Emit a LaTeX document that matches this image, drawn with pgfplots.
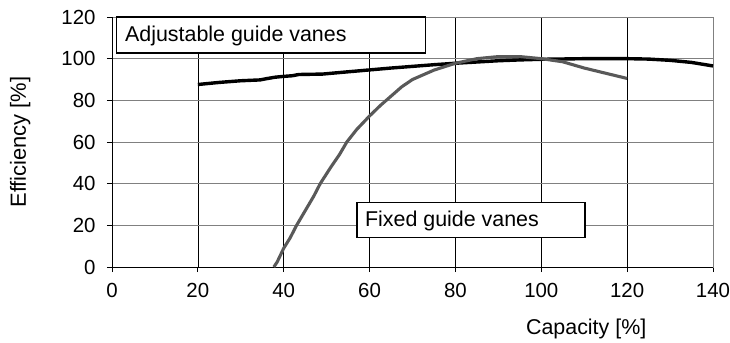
\documentclass[border=0pt]{standalone}
\usepackage{fontspec}
\setmainfont{Liberation Sans}
\usepackage{pgfplots}
\pgfplotsset{compat=1.18}
\definecolor{fixedgray}{RGB}{89,89,89}
\definecolor{gridgray}{RGB}{128,128,128}

\begin{document}
\begin{tikzpicture}
\path[use as bounding box] (-112bp,-76bp) rectangle (618bp,267bp);
\begin{axis}[
  scale only axis,
  width=601bp, height=250bp,
  at={(0,0)}, anchor=south west,
  xmin=0, xmax=140, ymin=0, ymax=120,
  xtick={0,20,...,140}, ytick={0,20,...,120},
  tick pos=left,
  tick align=outside,
  major tick length=5bp,
  tick style={black, line width=0.8bp},
  axis line style={draw=gridgray, line width=0.8bp},
  xmajorgrids, ymajorgrids,
  x grid style={black, line width=0.7bp},
  y grid style={gridgray, line width=0.8bp},
  clip=false,
  /pgf/number format/assume math mode=true,
  tick label style={font=\fontsize{20.5}{24}\selectfont},
  label style={font=\fontsize{21.5}{25}\selectfont},
  xticklabel style={yshift=-8bp},
  yticklabel style={xshift=-8bp},
  xlabel={Capacity [\%]},
  xlabel style={at={(axis description cs:0.789,0)}, anchor=base, yshift=-67bp},
  ylabel={Efficiency [\%]},
  ylabel style={at={(axis description cs:0,0.5)}, anchor=base, yshift=86bp,
    font=\fontsize{22}{26}\selectfont},
]
\draw[black, line width=0.9bp] (rel axis cs:0,1) -- (rel axis cs:0,0) -- (rel axis cs:1,0);

% adjustable guide vanes
\addplot[black, line width=3.4bp, line join=round] coordinates {
(20,87.6) (25,88.6) (30,89.4) (34.5,89.8) (36,90.4) (38,91.1) (40,91.5)
(42,91.8) (43.5,92.4) (49,92.6) (55,93.7) (60,94.6) (65,95.5) (70,96.3)
(75,97.1) (80,97.8) (85,98.4) (90,99) (95,99.4) (100,99.7) (110,100)
(120,100) (125,99.8) (130,99.2) (135,98.2) (140,96.5)};

% fixed guide vanes
\addplot[fixedgray, line width=3.1bp, line join=round] coordinates {
(37.7,0) (38.5,2.5) (40,9) (41.5,14) (43,20) (45,27) (47,34) (48.5,40)
(51,48) (53,54) (54.7,60) (57,66) (60,72.5) (62.5,77.5) (65,82)
(67.5,86.5) (70,90) (75,94.5) (80,97.8) (85,100) (90,101) (95,101)
(100,100) (105,98.5) (110,95.5) (115,93) (120,90.5)};

\draw[black, line width=1.3bp, fill=white] (axis cs:1.1,102.7) rectangle (axis cs:73.1,120);
\node[anchor=base west, inner sep=0pt, font=\fontsize{21.5}{25}\selectfont] at (axis cs:3.0,108.0) {Adjustable guide vanes};

\draw[black, line width=1.3bp, fill=white] (axis cs:57.1,14.2) rectangle (axis cs:110.2,30.8);
\node[anchor=base west, inner sep=0pt, font=\fontsize{21.5}{25}\selectfont] at (axis cs:58.9,19.3) {Fixed guide vanes};
\end{axis}
\end{tikzpicture}
\end{document}
